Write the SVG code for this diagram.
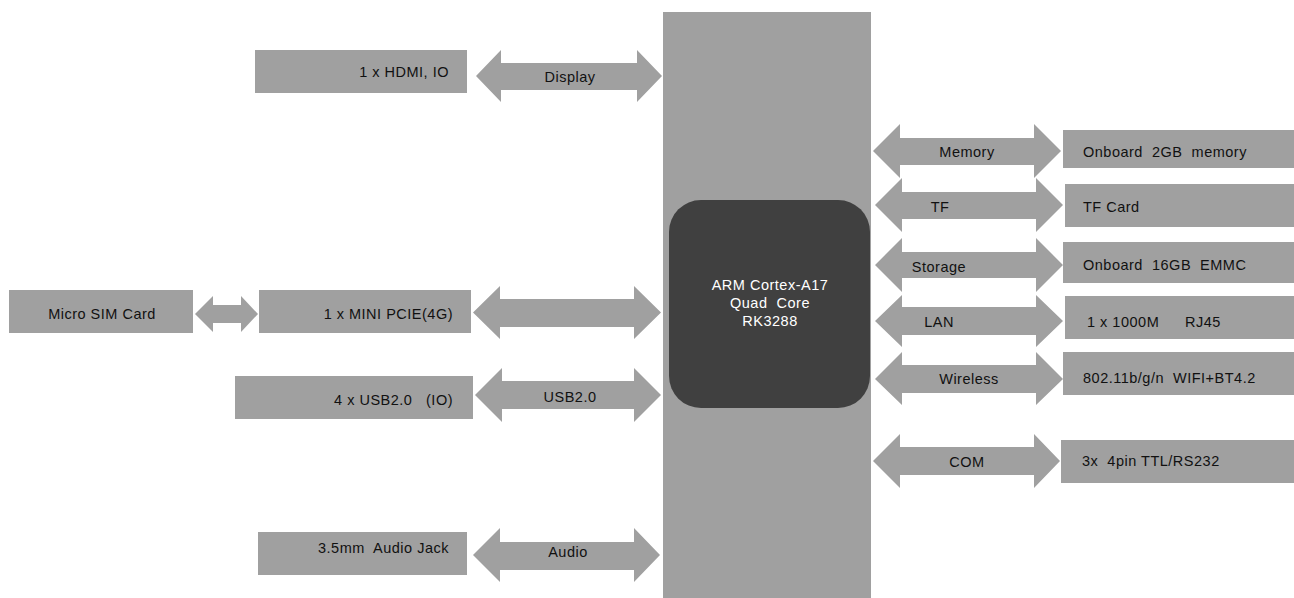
<svg xmlns="http://www.w3.org/2000/svg" width="1294" height="598" viewBox="0 0 1294 598">
<style>
.box{fill:#a0a0a0}
.arr{fill:#a0a0a0}
text{font-family:"Liberation Sans",Arial,sans-serif;font-size:14.5px;letter-spacing:0.5px;fill:#111111;white-space:pre}
.c{text-anchor:middle}
.e{text-anchor:end}
.w{fill:#ffffff}
</style>
<rect width="1294" height="598" fill="#ffffff"/>
<g id="bus"><rect x="663" y="12" width="208" height="586" class="box"/></g>
<g id="connectors">
<polygon class="arr" points="476,76 501,50 501,63 637,63 637,50 662,76 637,102 637,90 501,90 501,102"/>
<polygon class="arr" points="195,314 213,296 213,305 241,305 241,296 258,314 241,332 241,323 213,323 213,332"/>
<polygon class="arr" points="473,312.5 500,286 500,299 634,299 634,286 661,312.5 634,339 634,327 500,327 500,339"/>
<polygon class="arr" points="475,395 502,368 502,381 634,381 634,368 661,395 634,422 634,409 502,409 502,422"/>
<polygon class="arr" points="473,555 500,528 500,542 634,542 634,528 660,555 634,582 634,570 500,570 500,582"/>
<polygon class="arr" points="873,151 900,124 900,138 1034,138 1034,124 1061,151 1034,178 1034,165 900,165 900,178"/>
<polygon class="arr" points="875,205 902,178 902,192 1036,192 1036,178 1063,205 1036,232 1036,219 902,219 902,232"/>
<polygon class="arr" points="875,265 902,238 902,252 1036,252 1036,238 1063,265 1036,292 1036,278 902,278 902,292"/>
<polygon class="arr" points="875,321 902,295 902,307 1036,307 1036,295 1063,321 1036,347 1036,335 902,335 902,347"/>
<polygon class="arr" points="875,379 902,352 902,365 1036,365 1036,352 1063,379 1036,405 1036,393 902,393 902,405"/>
<polygon class="arr" points="873,461 900,434 900,447 1034,447 1034,434 1060,461 1034,488 1034,475 900,475 900,488"/>
<text class="c" x="570" y="82">Display</text>
<text class="c" x="570" y="402">USB2.0</text>
<text class="c" x="568" y="557">Audio</text>
<text class="c" x="967" y="157">Memory</text>
<text class="c" x="940" y="212">TF</text>
<text class="c" x="939" y="272">Storage</text>
<text class="c" x="939" y="327">LAN</text>
<text class="c" x="969" y="384">Wireless</text>
<text class="c" x="967" y="467">COM</text>
</g>
<g id="cpu">
<rect x="669" y="200" width="201" height="208" rx="32" ry="32" fill="#404040"/>
<text class="c w" x="770" y="290">ARM Cortex-A17</text>
<text class="c w" x="770" y="308">Quad  Core</text>
<text class="c w" x="770" y="326">RK3288</text>
</g>
<g id="hdmi"><rect x="255" y="50" width="212" height="43" class="box"/><text class="e" x="449" y="77">1 x HDMI, IO</text></g>
<g id="sim"><rect x="9" y="290" width="184" height="43" class="box"/><text class="c" x="102" y="319">Micro SIM Card</text></g>
<g id="pcie"><rect x="259" y="290" width="212" height="43" class="box"/><text class="e" x="453" y="319">1 x MINI PCIE(4G)</text></g>
<g id="usb"><rect x="235" y="376" width="238" height="43" class="box"/><text class="e" x="453" y="405">4 x USB2.0   (IO)</text></g>
<g id="audio"><rect x="258" y="532" width="209" height="43" class="box"/><text class="e" x="449" y="553">3.5mm  Audio Jack</text></g>
<g id="memory"><rect x="1063" y="130" width="231" height="38" class="box"/><text x="1083" y="157">Onboard  2GB  memory</text></g>
<g id="tf"><rect x="1065" y="184" width="229" height="43" class="box"/><text x="1083" y="212">TF Card</text></g>
<g id="storage"><rect x="1063" y="242" width="231" height="41" class="box"/><text x="1083" y="270">Onboard  16GB  EMMC</text></g>
<g id="lan"><rect x="1065" y="296" width="229" height="43" class="box"/><text x="1087" y="327">1 x 1000M<tspan x="1185">RJ45</tspan></text></g>
<g id="wireless"><rect x="1063" y="352" width="231" height="43" class="box"/><text x="1083" y="383">802.11b/g/n<tspan x="1173">WIFI+BT4.2</tspan></text></g>
<g id="com"><rect x="1061" y="440" width="233" height="43" class="box"/><text x="1082" y="466">3x  4pin TTL/RS232</text></g>
</svg>
